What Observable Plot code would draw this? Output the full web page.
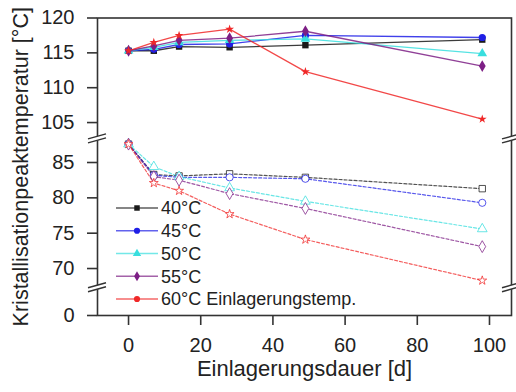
<!DOCTYPE html>
<html><head><meta charset="utf-8">
<script src="https://cdn.jsdelivr.net/npm/d3@7"></script>
<script src="https://cdn.jsdelivr.net/npm/@observablehq/plot@0.6"></script>
<style>body{margin:0;background:#fff;} svg{display:block}</style>
</head><body><div id="chart"></div>
<script>
// ---- data ----
const days = [0, 7, 14, 28, 49, 98];
const temps = ["40°C", "45°C", "50°C", "55°C", "60°C"];
const colors = ["#1a1a1a", "#1f1fe6", "#38dede", "#7d1f85", "#f02828"];
const symbols = ["square", "circle", "triangle", "diamond", "star"];
// upper values (solid lines, filled markers)
const top40 = [115.3, 115.3, 115.9, 115.8, 116.1, 116.9];
const top45 = [115.3, 115.5, 116.2, 116.3, 117.5, 117.2];
const top50 = [115.3, 115.8, 116.5, 116.8, 117.0, 114.9];
const top55 = [115.3, 116.0, 116.8, 117.1, 118.1, 113.1];
const top60 = [115.3, 116.5, 117.5, 118.4, 112.3, 105.5];
// lower values (dashed lines, open markers)
const low40 = [87.6, 83.3, 83.1, 83.4, 82.9, 81.3];
const low45 = [87.6, 83.2, 82.9, 82.9, 82.7, 79.3];
const low50 = [87.6, 84.4, 83.0, 81.4, 79.5, 75.6];
const low55 = [87.6, 83.0, 82.5, 80.6, 78.5, 73.1];
const low60 = [87.6, 82.1, 81.0, 77.7, 74.1, 68.3];
const xTicks = [0, 20, 40, 60, 80, 100];
const yTicks = [0, 70, 75, 80, 85, 105, 110, 115, 120];
const xTitle = "Einlagerungsdauer [d]";
const yTitle = "Kristallisationpeaktemperatur [°C]";
const legendNote = "Einlagerungstemp.";

const topSeries = [top40, top45, top50, top55, top60];
const lowSeries = [low40, low45, low50, low55, low60];
const toRows = (series) => series.flatMap((vals, i) =>
  vals.map((v, j) => ({temp: temps[i], day: days[j], value: v})));
const topRows = toRows(topSeries);
const lowRows = toRows(lowSeries);

const font = "'Liberation Sans', Arial, sans-serif";
const plot = Plot.plot({
  width: 516, height: 392,
  marginLeft: 97, marginRight: 5, marginTop: 17.5, marginBottom: 77,
  style: {fontFamily: font, background: "#fff", color: "#222"},
  x: {domain: [-8.6, 106.1]},
  y: {type: "linear", domain: [0, 67.5, 88, 103, 120], range: [315, 285.7, 140.8, 136, 17.5]},
  color: {domain: temps, range: colors},
  symbol: {domain: temps, range: symbols},
  r: {type: "identity"},
  marks: [
    Plot.line(lowRows, {x: "day", y: "value", z: "temp", stroke: "temp", strokeWidth: 1.2, strokeDasharray: "3,2", strokeOpacity: 0.75}),
    Plot.dot(lowRows, {x: "day", y: "value", symbol: "temp", stroke: "temp", fill: "white", r: d => d.temp === "60°C" ? 2.8 : 3.6, strokeWidth: 1, strokeOpacity: 0.75}),
    Plot.line(topRows, {x: "day", y: "value", z: "temp", stroke: "temp", strokeWidth: 1.3, strokeOpacity: 0.85}),
    Plot.dot(topRows, {x: "day", y: "value", symbol: "temp", fill: "temp", r: d => d.temp === "60°C" ? 2.8 : 3.6}),
    Plot.frame({stroke: "#333", strokeWidth: 1.6}),
    Plot.axisY({ticks: yTicks, tickSize: 10, tickPadding: 13, fontSize: 20, label: null, strokeWidth: 1.6, stroke: "#333"}),
    Plot.axisX({ticks: xTicks, tickSize: 10, tickPadding: 12, fontSize: 20, label: null, strokeWidth: 1.6, stroke: "#333"}),
    Plot.text([xTitle], {frameAnchor: "bottom", dy: 60, fontSize: 22, fill: "#222"}),
    Plot.text([yTitle], {frameAnchor: "left", textAnchor: "middle", dx: -76, rotate: -90, fontSize: 21.5, fill: "#222"})
  ]
});
document.getElementById("chart").appendChild(plot);

// ---- axis breaks ----
const svg = d3.select(plot);
const ys = plot.scale("y");
const xs = plot.scale("x");
const xLeft = xs.range[0], xRight = xs.range[1];
const breaks = [ys.apply(95.5), ys.apply(67.5) + 1.5];
const g = svg.append("g");
for (const by of breaks) {
  for (const bx of [xLeft, xRight]) {
    const b = g.append("g").attr("transform", `translate(${bx},${by})`);
    b.append("path").attr("d", "M-9,4.5 L9,-0.5 L9,-4.5 L-9,0.5 Z").attr("fill", "white");
    b.append("path").attr("d", "M-9,4.5 L9,-0.5 M-9,0.5 L9,-4.5")
      .attr("stroke", "#333").attr("stroke-width", 1.5).attr("fill", "none");
  }
}

// ---- legend ----
const leg = svg.append("g").attr("transform", "translate(116,208)")
  .style("font-family", font).style("font-size", "18px").attr("text-anchor", "start");
temps.forEach((t, i) => {
  const row = leg.append("g").attr("transform", `translate(0,${i * 22.75})`);
  row.append("line").attr("x1", 0).attr("x2", 42).attr("stroke", colors[i])
    .attr("stroke-width", 1.3).attr("stroke-opacity", 0.7);
  const sym = {square: d3.symbolSquare, circle: d3.symbolCircle, triangle: d3.symbolTriangle, diamond: d3.symbolDiamond, star: d3.symbolStar}[symbols[i]];
  row.append("path").attr("transform", "translate(21,0)")
    .attr("d", d3.symbol(i === 4 ? d3.symbolCircle : sym, 30)()).attr("fill", colors[i]);
  row.append("text").attr("x", 45).attr("dy", "0.35em").attr("fill", "#222")
    .attr("text-anchor", "start")
    .text(t + (i === temps.length - 1 ? " " + legendNote : ""));
});
</script>
</body></html>
